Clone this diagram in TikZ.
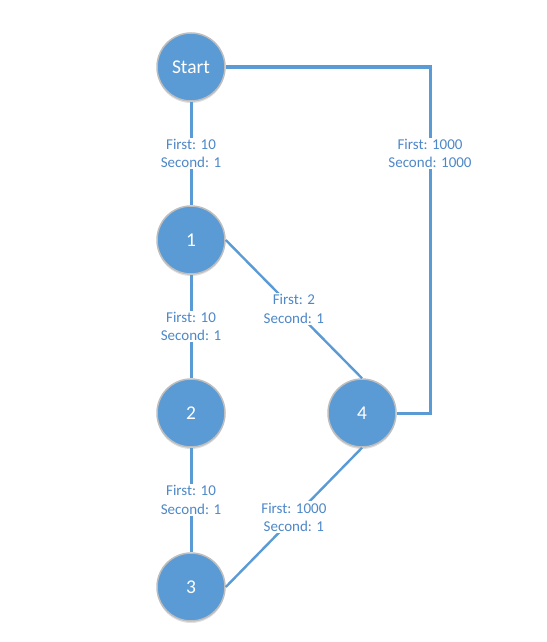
\documentclass[tikz,border=0pt]{standalone}
\usepackage{fontspec}
\setmainfont{Carlito}
\usetikzlibrary{shadows}
\definecolor{nodeblue}{RGB}{91,155,213}
\definecolor{labelblue}{RGB}{78,136,200}
\definecolor{rimgray}{RGB}{190,190,190}
\tikzset{
  vertex/.style={circle, fill=nodeblue, draw=rimgray, line width=1.5pt,
    minimum size=68pt, inner sep=0pt, text=white, font=\fontsize{19.5}{23}\selectfont,
    drop shadow={shadow xshift=0pt, shadow yshift=-2pt, opacity=0.12, fill=black}},
  link/.style={draw=nodeblue, line width=3pt},
  dlink/.style={draw=nodeblue, line width=2.4pt},
  wlabel/.style={fill=white, text=labelblue, align=center, inner sep=1.5pt,
    font=\fontsize{15}{18.5}\selectfont}
}
\begin{document}
\begin{tikzpicture}[x=1pt,y=-1pt]
\useasboundingbox (0,0) rectangle (546,642);
\node[vertex] (s) at (191,67) {Start};
\node[vertex] (n1) at (191,240) {1};
\node[vertex] (n2) at (191,413) {2};
\node[vertex] (n3) at (191,587) {3};
\node[vertex] (n4) at (362,413) {4};
\coordinate (c1) at (430,67);
\coordinate (c2) at (430,413);
\path[link] (s) -- node[wlabel] (l1) {First: 10\\Second: 1} (n1);
\path[link] (n1) -- node[wlabel] (l2) {First: 10\\Second: 1} (n2);
\path[link] (n2) -- node[wlabel] (l3) {First: 10\\Second: 1} (n3);
\path[dlink] (n1.east) -- node[wlabel] (l4) {First: 2\\Second: 1} (n4.north);
\path[dlink] (n3.east) -- node[wlabel] (l5) {First: 1000\\Second: 1} (n4.south);
\path[link] (s.east) -- (c1) -- node[wlabel, pos=0.25] (l6) {First: 1000\\Second: 1000} (c2) -- (n4.east);
\end{tikzpicture}
\end{document}
